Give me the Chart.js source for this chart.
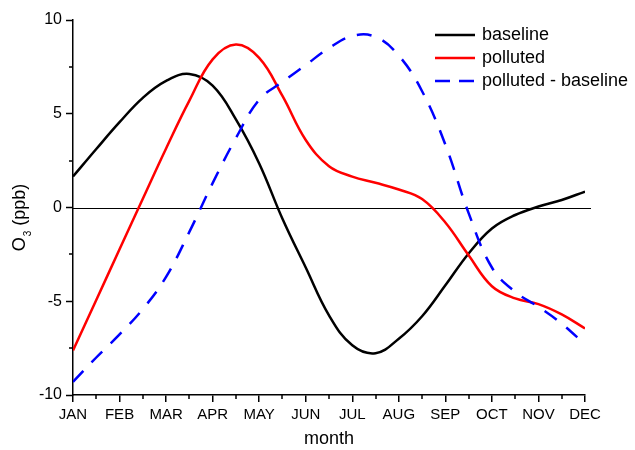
<!DOCTYPE html>
<html>
<head>
<meta charset="utf-8">
<script src="https://cdn.jsdelivr.net/npm/chart.js@4.4.0/dist/chart.umd.min.js"></script>
<style>
body { margin: 0; background: #fff; }
</style>
</head>
<body>
<canvas id="myChart" width="635" height="450"></canvas>
<script>
// x = month position, 0 = JAN ... 11 = DEC, read every half month
var months = ['JAN','FEB','MAR','APR','MAY','JUN','JUL','AUG','SEP','OCT','NOV','DEC'];
var xpos = [0,0.5,1,1.5,2,2.5,3,3.5,4,4.5,5,5.5,6,6.5,7,7.5,8,8.5,9,9.5,10,10.5,11];
var baseline = [1.65,3.12,4.55,5.85,6.75,7.12,6.5,4.7,2.35,-0.6,-3.2,-5.75,-7.35,-7.77,-7.0,-5.8,-4.15,-2.45,-1.12,-0.4,0.05,0.4,0.85];
var polluted = [-7.63,-4.93,-2.23,0.47,3.15,5.7,7.9,8.69,7.98,5.95,3.6,2.2,1.65,1.32,0.96,0.45,-0.8,-2.55,-4.2,-4.85,-5.15,-5.7,-6.45];
var diff = [-9.3,-8.0,-6.77,-5.42,-3.7,-1.3,1.3,3.7,5.75,6.7,7.6,8.5,9.15,9.1,8.1,6.2,3.35,-0.3,-3.2,-4.5,-5.3,-6.2,-7.3];
var yTicks = [-10,-5,0,5,10];

function pts(arr){
    return xpos.map(function(x, i){ return {x: x, y: arr[i]}; });
}

var FONT = 'Liberation Sans, Arial, sans-serif';

//zero line, minor ticks (half months / 2.5 ppb), y title with subscript, legend
var extras = {
    id: 'extras',
    beforeDatasetsDraw: function(chart){
        var ctx = chart.ctx;
        var xs = chart.scales.x, ys = chart.scales.y;
        var y0 = Math.round(ys.getPixelForValue(0)) + 0.5;
        ctx.save();
        ctx.strokeStyle = '#000';
        ctx.lineWidth = 1;
        ctx.beginPath();
        ctx.moveTo(xs.left, y0);
        ctx.lineTo(xs.right + 6, y0);
        ctx.stroke();
        ctx.restore();
    },
    afterDraw: function(chart){
        var ctx = chart.ctx;
        var xs = chart.scales.x, ys = chart.scales.y;
        ctx.save();
        ctx.strokeStyle = '#000';
        ctx.lineWidth = 1.5;
        ctx.beginPath();
        for (var m = 0.5; m < 11; m += 1){
            var px = Math.round(xs.getPixelForValue(m));
            ctx.moveTo(px, ys.bottom);
            ctx.lineTo(px, ys.bottom + 4);
        }
        for (var v = -7.5; v < 10; v += 5){
            var py = Math.round(ys.getPixelForValue(v));
            ctx.moveTo(xs.left, py);
            ctx.lineTo(xs.left - 4, py);
        }
        ctx.stroke();
        ctx.restore();

        // O3 (ppb)
        ctx.save();
        ctx.translate(0, 218);
        ctx.rotate(-Math.PI / 2);
        ctx.fillStyle = '#000';
        ctx.textBaseline = 'alphabetic';
        ctx.font = '18px ' + FONT;
        var wO = ctx.measureText('O').width;
        var wP = ctx.measureText(' (ppb)').width;
        ctx.font = '10px ' + FONT;
        var w3 = ctx.measureText('3').width;
        var x0 = -(wO + w3 + wP) / 2;
        ctx.font = '18px ' + FONT;
        ctx.fillText('O', x0, 25);
        ctx.font = '10px ' + FONT;
        ctx.fillText('3', x0 + wO + 1, 31);
        ctx.font = '18px ' + FONT;
        ctx.fillText(' (ppb)', x0 + wO + w3 + 1, 25);
        ctx.restore();

        // legend
        chart.data.datasets.forEach(function(ds, i){
            var y = 35 + i * 23;
            ctx.save();
            ctx.strokeStyle = ds.borderColor;
            ctx.lineWidth = ds.borderWidth;
            ctx.setLineDash(ds.borderDash ? [15, 9] : []);
            ctx.beginPath();
            ctx.moveTo(435, y);
            ctx.lineTo(475, y);
            ctx.stroke();
            ctx.setLineDash([]);
            ctx.fillStyle = '#000';
            ctx.font = '18px ' + FONT;
            ctx.textBaseline = 'middle';
            ctx.fillText(ds.label, 482, y);
            ctx.restore();
        });
    }
};

var ctx = document.getElementById('myChart');
var myChart = new Chart(ctx, {
    type: 'line',
    data: {
        datasets: [{
            label: 'baseline',
            data: pts(baseline),
            borderColor: '#000000',
            borderWidth: 2.5,
            order: 2
        }, {
            label: 'polluted',
            data: pts(polluted),
            borderColor: '#ff0000',
            borderWidth: 2.5,
            order: 1
        }, {
            label: 'polluted - baseline',
            data: pts(diff),
            borderColor: '#0000ff',
            borderWidth: 2.5,
            borderDash: [15, 12],
            order: 0
        }]
    },
    options: {
        responsive: false,
        animation: false,
        layout: { padding: { top: 20, right: 50, left: 0, bottom: 0 } },
        elements: {
            point: { radius: 0 },
            line: { tension: 0.4, fill: false }
        },
        plugins: {
            legend: { display: false },
            tooltip: { enabled: false }
        },
        scales: {
            x: {
                type: 'linear',
                min: 0,
                max: 11,
                ticks: {
                    stepSize: 1,
                    autoSkip: false,
                    maxRotation: 0,
                    padding: 4,
                    color: '#000',
                    font: { family: FONT, size: 15 },
                    callback: function(v){ return months[v]; }
                },
                grid: { drawOnChartArea: false, color: '#000', tickLength: 7, lineWidth: 1.5 },
                border: { color: '#000', width: 1.5 },
                title: {
                    display: true,
                    text: 'month',
                    color: '#000',
                    font: { family: FONT, size: 18 },
                    padding: { top: 8, bottom: 0 }
                },
                afterFit: function(s){ s.height = 55; }
            },
            y: {
                min: -10,
                max: 10,
                afterBuildTicks: function(s){
                    s.ticks = yTicks.map(function(v){ return {value: v}; });
                },
                ticks: {
                    padding: 4,
                    color: '#000',
                    font: { family: FONT, size: 16 }
                },
                grid: {
                    drawOnChartArea: false,
                    color: '#000',
                    tickWidth: 1.5,
                    tickLength: 7
                },
                border: { color: '#000', width: 1.5 },
                afterFit: function(s){ s.width = 73; }
            }
        }
    },
    plugins: [extras]
});
</script>
</body>
</html>
